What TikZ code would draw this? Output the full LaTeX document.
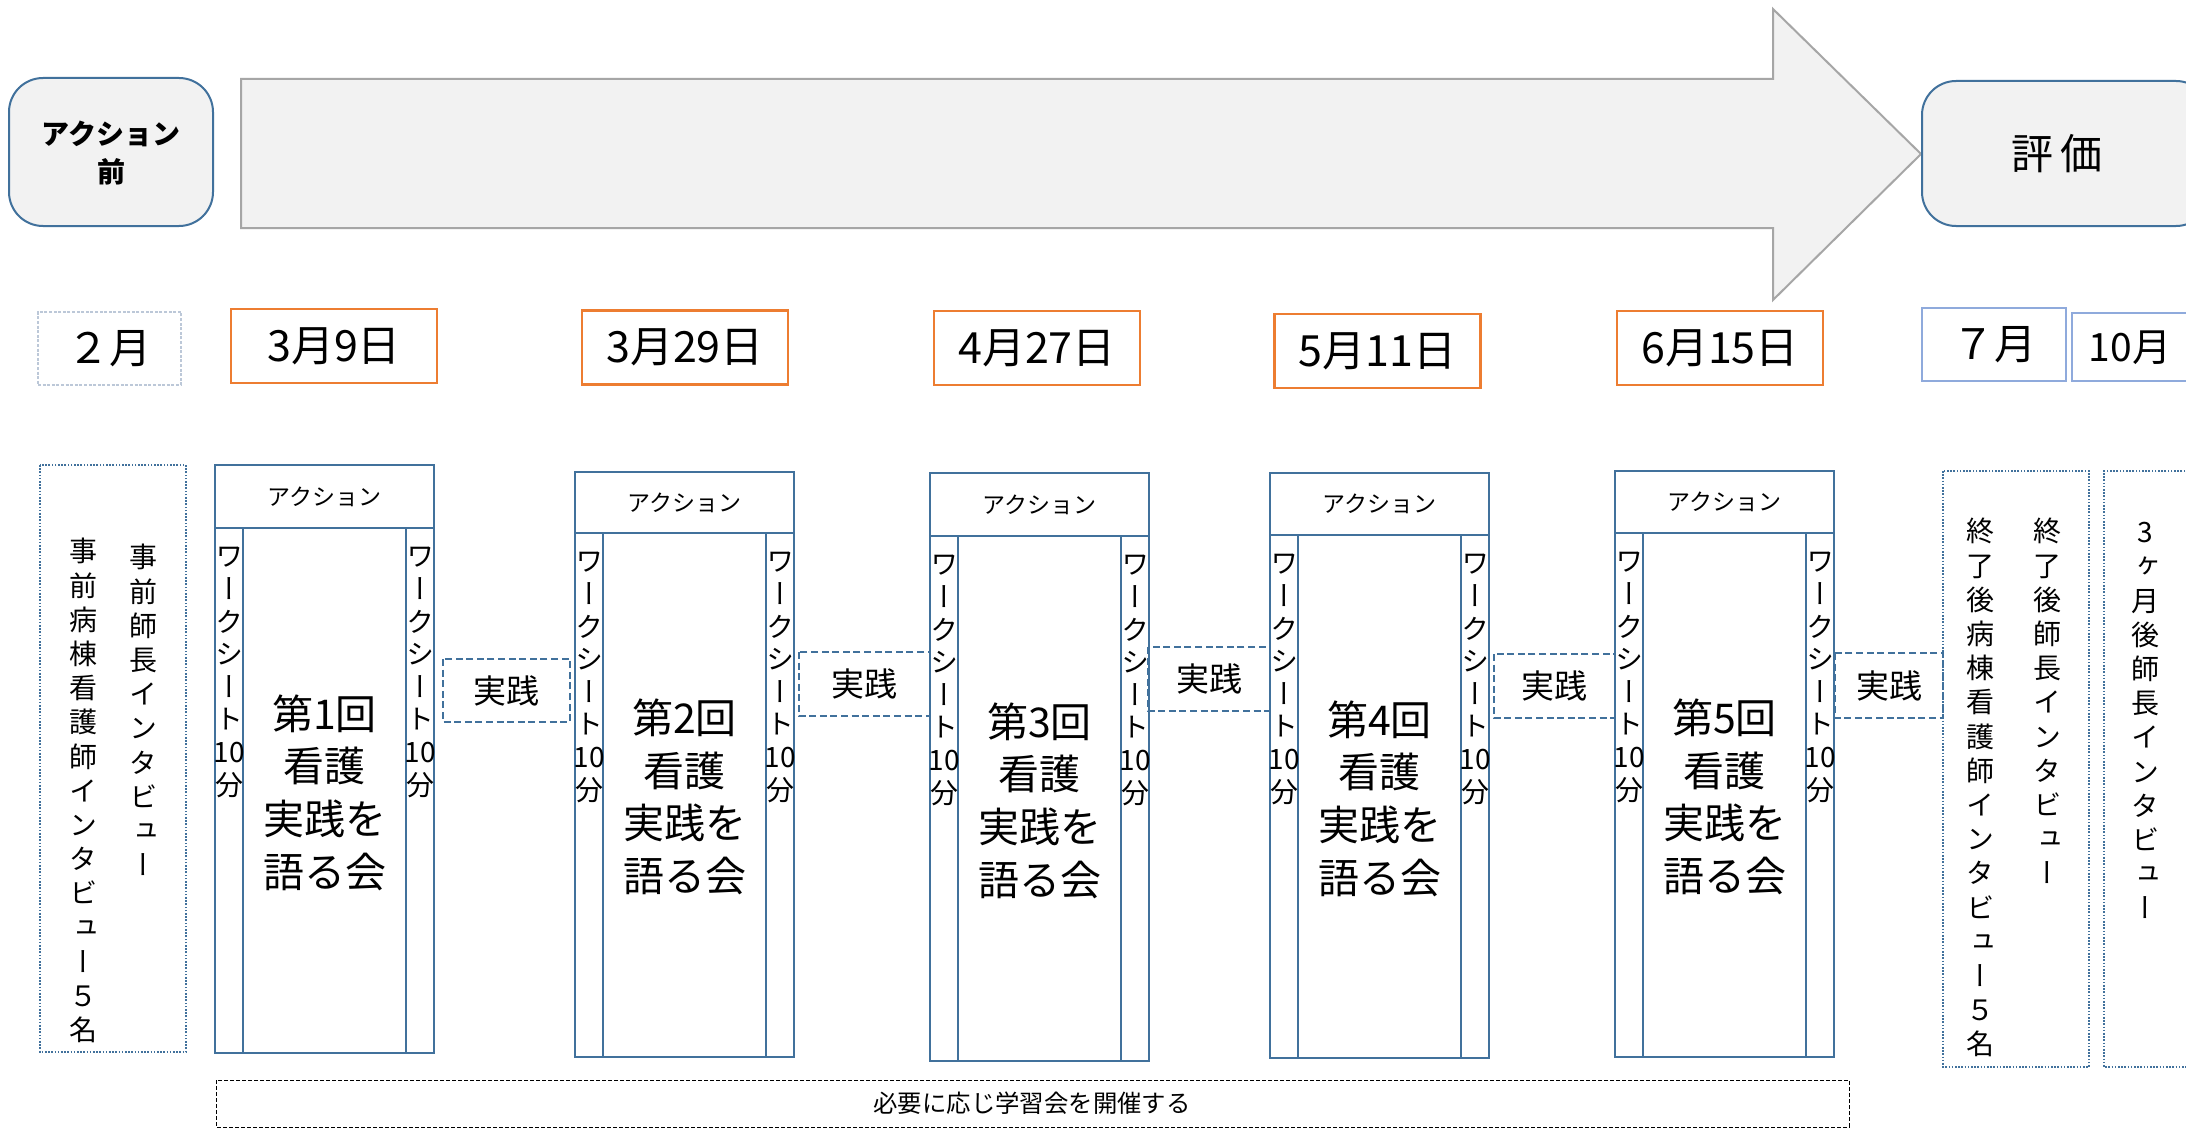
\documentclass[tikz,border=0pt]{standalone}
\usepackage{fontspec}
\setmainfont{Noto Sans CJK JP}
\newfontfamily\vjp[RawFeature=+vert]{Noto Sans CJK JP}
\definecolor{sblue}{HTML}{41719C}
\definecolor{dorange}{HTML}{ED7D31}
\definecolor{lblue}{HTML}{8FAADC}
\definecolor{faint}{HTML}{BCC8D8}
\definecolor{shapefill}{HTML}{F2F2F2}
\definecolor{arrowline}{HTML}{A6A6A6}
\newcommand\sessbox[6]{%
  \draw[sessline] (#2,#3) rectangle (#2+219,#4);
  \draw[sessline] (#2,#4) rectangle (#2+28,#5);
  \draw[sessline] (#2+28,#4) rectangle (#2+191,#5);
  \draw[sessline] (#2+191,#4) rectangle (#2+219,#5);
  \node[hdr] (#1h) at ({#2+109.5},{(#3+#4)/2}) {アクション};
  \node[wsheet] (#1l) at ({#2+14},{#4+19}) {ワ\\ー\\ク\\シ\\ー\\ト\\10\\分};
  \node[wsheet] (#1r) at ({#2+205},{#4+19}) {ワ\\ー\\ク\\シ\\ー\\ト\\10\\分};
  \node[bodytxt] (#1c) at ({#2+109.5},{(#4+#5)/2+2}) {第#6回\\看護\\実践を\\語る会};
}
\newcommand\practbox[5]{%
  \draw[practline] (#2,#3) rectangle (#4,#5);
  \node[practtxt] (#1) at ({(#2+#4)/2},{(#3+#5)/2}) {実践};
}
\begin{document}
\begin{tikzpicture}[x=0.5pt,y=-0.5pt,
  sessline/.style={draw=sblue,line width=1.2pt},
  hdr/.style={inner sep=0pt,font=\fontsize{11.5}{13}\selectfont},
  wsheet/.style={anchor=north,align=center,inner sep=0pt,font=\vjp\fontsize{14}{16.3}\selectfont},
  bodytxt/.style={align=center,inner sep=0pt,font=\fontsize{20.5}{26.3}\selectfont},
  practline/.style={draw=sblue,line width=1pt,dash pattern=on 3.5pt off 1.8pt},
  practtxt/.style={inner sep=0pt,font=\fontsize{16.5}{18}\selectfont},
  datebox/.style={draw=dorange,line width=1.2pt,minimum width=103pt,minimum height=37pt,inner sep=0pt,font=\fontsize{21.5}{23}\selectfont},
  monthbox/.style={line width=0.7pt,minimum height=36.5pt,inner sep=0pt,font=\fontsize{21}{23}\selectfont},
  vtext/.style={anchor=north,align=center,inner sep=0pt,font=\vjp\fontsize{14}{17.1}\selectfont},
  dotline/.style={draw=sblue,line width=0.9pt,dash pattern=on 0.8pt off 0.8pt},
  phase/.style={draw=sblue,fill=shapefill,line width=1pt,rounded corners=17pt}
]
\useasboundingbox (0,0) rectangle (2186,1129);
\fill[white] (0,0) rectangle (2186,1129);
\clip (0,0) rectangle (2186,1129);

% phase boxes and big arrow
\draw[phase] (9,78) rectangle (213,226);
\node[align=center,inner sep=0pt,font=\bfseries\fontsize{14}{19}\selectfont] (pre) at (111,153) {アクション\\前};
\draw[draw=arrowline,fill=shapefill,line width=1pt] (241,79) -- (1773,79) -- (1773,9) -- (1921,154) -- (1773,300) -- (1773,228) -- (241,228) -- cycle;
\draw[phase] (1922,81) rectangle (2210,226);
\node[inner sep=0pt,font=\fontsize{21}{23}\selectfont] (eval) at (2057,154) {評\hspace{4pt}価};

% dates
\node[monthbox,draw=faint,dash pattern=on 1.5pt off 0.8pt,minimum width=71.5pt] (feb) at (109.5,348.5) {２月};
\node[datebox] (d1) at (334,346) {3月9日};
\node[datebox] (d2) at (685,347.5) {3月29日};
\node[datebox] (d3) at (1037,348) {4月27日};
\node[datebox] (d4) at (1377.5,351) {5月11日};
\node[datebox] (d5) at (1720,348) {6月15日};
\node[monthbox,draw=lblue,minimum width=72pt] (jul) at (1994,344.5) {７月};
\draw[draw=lblue,line width=0.7pt] (2230,313) -- (2072,313) -- (2072,381) -- (2230,381);
\node[inner sep=0pt,font=\fontsize{19.5}{21}\selectfont] (oct) at (2130,348) {10月};

% pre interviews
\draw[dotline] (40,465) rectangle (186,1052);
\node[vtext] (pre1) at (143,544) {事\\前\\師\\長\\イ\\ン\\タ\\ビ\\ュ\\ー};
\node[vtext] (pre2) at (83,538) {事\\前\\病\\棟\\看\\護\\師\\イ\\ン\\タ\\ビ\\ュ\\ー\\５\\名};

% sessions
\sessbox{s1}{215}{465}{528}{1053}{1}
\sessbox{s2}{575}{472}{533}{1057}{2}
\sessbox{s3}{930}{473}{536}{1061}{3}
\sessbox{s4}{1270}{473}{535}{1058}{4}
\sessbox{s5}{1615}{471}{533}{1057}{5}

% practice
\practbox{p1}{443}{659}{570}{722}
\practbox{p2}{799}{652}{930}{716}
\practbox{p3}{1148}{647}{1270}{711}
\practbox{p4}{1494}{654}{1615}{718}
\practbox{p5}{1835}{653}{1943}{718}

% post interviews
\draw[dotline] (1943,471) rectangle (2089,1067);
\node[vtext] (post1) at (2047,518) {終\\了\\後\\師\\長\\イ\\ン\\タ\\ビ\\ュ\\ー};
\node[vtext] (post2) at (1980,518) {終\\了\\後\\病\\棟\\看\\護\\師\\イ\\ン\\タ\\ビ\\ュ\\ー\\５\\名};
\draw[dotline] (2230,471) -- (2104,471) -- (2104,1067) -- (2230,1067);
\node[vtext] (post3) at (2145,522) {3\\ヶ\\月\\後\\師\\長\\イ\\ン\\タ\\ビ\\ュ\\ー};

% study sessions
\draw[line width=0.5pt,dash pattern=on 2pt off 1pt] (216,1080) rectangle (1849,1127);
\node[inner sep=0pt,font=\fontsize{12.2}{14}\selectfont] (study) at (1032,1103.5) {必要に応じ学習会を開催する};
\end{tikzpicture}
\end{document}
